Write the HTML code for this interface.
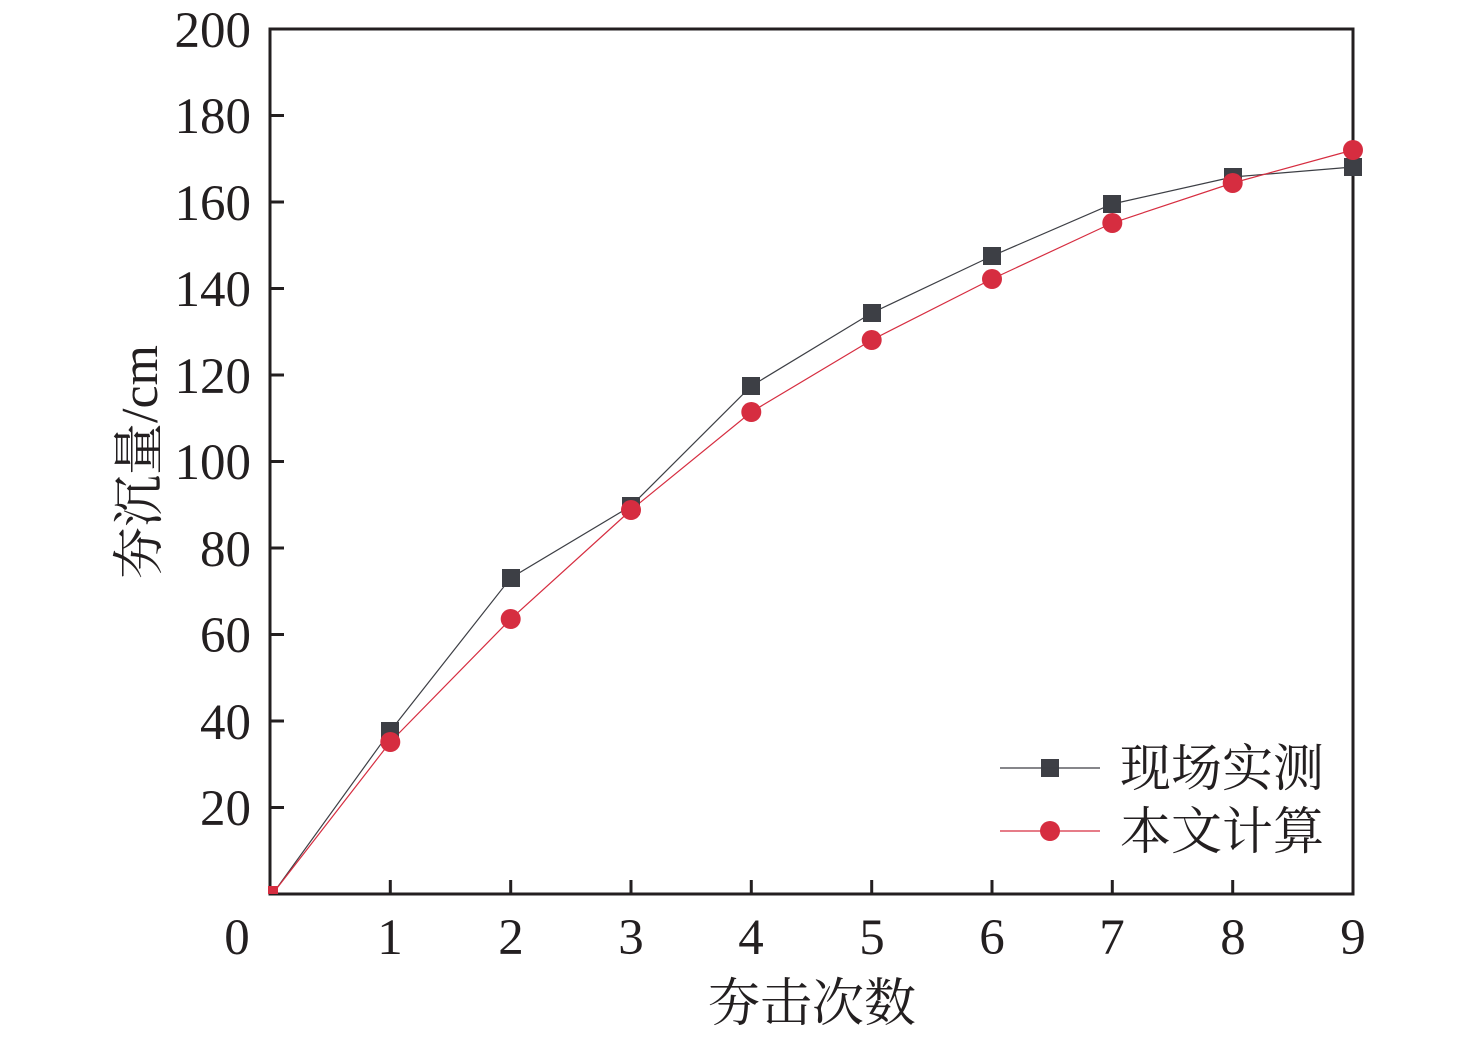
<!DOCTYPE html><html><head><style>body{margin:0;background:#fff}</style></head><body>
<svg width="1476" height="1037" xmlns="http://www.w3.org/2000/svg" font-family="'Liberation Serif','Noto Serif CJK SC',serif" fill="#231f20">
<rect x="270" y="29" width="1083" height="865" fill="none" stroke="#231f20" stroke-width="3"/>
<g stroke="#231f20" stroke-width="3">
<line x1="270" y1="807.5" x2="284" y2="807.5"/><line x1="270" y1="721" x2="284" y2="721"/><line x1="270" y1="634.5" x2="284" y2="634.5"/><line x1="270" y1="548" x2="284" y2="548"/><line x1="270" y1="461.5" x2="284" y2="461.5"/><line x1="270" y1="375" x2="284" y2="375"/><line x1="270" y1="288.5" x2="284" y2="288.5"/><line x1="270" y1="202" x2="284" y2="202"/><line x1="270" y1="115.5" x2="284" y2="115.5"/>
<line x1="390.3" y1="894" x2="390.3" y2="880"/><line x1="510.7" y1="894" x2="510.7" y2="880"/><line x1="631" y1="894" x2="631" y2="880"/><line x1="751.3" y1="894" x2="751.3" y2="880"/><line x1="871.7" y1="894" x2="871.7" y2="880"/><line x1="992" y1="894" x2="992" y2="880"/><line x1="1112.3" y1="894" x2="1112.3" y2="880"/><line x1="1232.7" y1="894" x2="1232.7" y2="880"/>
</g>
<g font-size="51" text-anchor="end">
<text x="251" y="825">20</text><text x="251" y="739">40</text><text x="251" y="652">60</text><text x="251" y="566">80</text><text x="251" y="479">100</text><text x="251" y="393">120</text><text x="251" y="306">140</text><text x="251" y="220">160</text><text x="251" y="133">180</text><text x="251" y="47">200</text>
</g>
<g font-size="51" text-anchor="middle">
<text x="237" y="954">0</text><text x="390" y="954">1</text><text x="511" y="954">2</text><text x="631" y="954">3</text><text x="751" y="954">4</text><text x="872" y="954">5</text><text x="992" y="954">6</text><text x="1112" y="954">7</text><text x="1233" y="954">8</text><text x="1353" y="954">9</text>
</g>
<text x="812" y="1021" font-size="52" text-anchor="middle">夯击次数</text>
<text transform="translate(157,462) rotate(-90)" font-size="52" text-anchor="middle">夯沉量/cm</text>
<polyline fill="none" stroke="#3d3f45" stroke-width="1.2" points="274,892 390.3,731 510.7,578 631,506 751.3,386 871.7,313 992,256 1112.3,204 1232.7,177 1353,167"/>
<polyline fill="none" stroke="#d62d40" stroke-width="1.2" points="274,892 390.3,742 510.7,619 631,510 751.3,412 871.7,340 992,279 1112.3,223 1232.7,183 1353,150"/>
<g fill="#3d3f45">
<rect x="381" y="722" width="18" height="18"/><rect x="502" y="569" width="18" height="18"/><rect x="622" y="497" width="18" height="18"/><rect x="742" y="377" width="18" height="18"/><rect x="863" y="304" width="18" height="18"/><rect x="983" y="247" width="18" height="18"/><rect x="1103" y="195" width="18" height="18"/><rect x="1224" y="168" width="18" height="18"/><rect x="1344" y="158" width="18" height="18"/>
<rect x="1041" y="759" width="18" height="18"/>
</g>
<g fill="#d62d40">
<rect x="268" y="886" width="10" height="8"/>
<circle cx="390.3" cy="742" r="10"/><circle cx="510.7" cy="619" r="10"/><circle cx="631" cy="510" r="10"/><circle cx="751.3" cy="412" r="10"/><circle cx="871.7" cy="340" r="10"/><circle cx="992" cy="279" r="10"/><circle cx="1112.3" cy="223" r="10"/><circle cx="1232.7" cy="183" r="10"/><circle cx="1353" cy="150" r="10"/>
<circle cx="1050" cy="831" r="10"/>
</g>
<line x1="1000" y1="768" x2="1100" y2="768" stroke="#3d3f45" stroke-width="1.2"/>
<line x1="1000" y1="831" x2="1100" y2="831" stroke="#d62d40" stroke-width="1.2"/>
<text x="1120" y="786" font-size="51">现场实测</text>
<text x="1120" y="849" font-size="51">本文计算</text>
</svg></body></html>
